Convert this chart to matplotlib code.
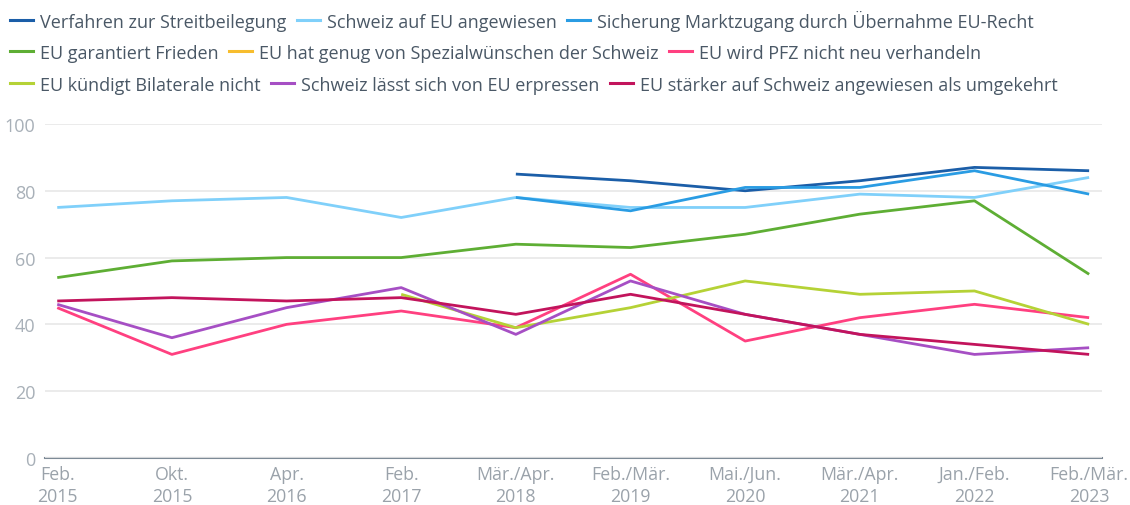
import matplotlib
matplotlib.use("Agg")
import matplotlib.pyplot as plt
from matplotlib.lines import Line2D
import numpy as np

plt.rcParams['font.family'] = ['Open Sans', 'DejaVu Sans']

categories = ["Feb.\n2015", "Okt.\n2015", "Apr.\n2016", "Feb.\n2017", "Mär./Apr.\n2018",
              "Feb./Mär.\n2019", "Mai./Jun.\n2020", "Mär./Apr.\n2021", "Jan./Feb.\n2022", "Feb./Mär.\n2023"]
nan = np.nan
verfahren = [nan, nan, nan, nan, 85, 83, 80, 83, 87, 86]
schweiz_angewiesen = [75, 77, 78, 72, 78, 75, 75, 79, 78, 84]
marktzugang = [nan, nan, nan, nan, 78, 74, 81, 81, 86, 79]
frieden = [54, 59, 60, 60, 64, 63, 67, 73, 77, 55]
spezialwuensche = [nan] * 10
pfz = [45, 31, 40, 44, 39, 55, 35, 42, 46, 42]
bilaterale = [nan, nan, nan, 49, 39, 45, 53, 49, 50, 40]
erpressen = [46, 36, 45, 51, 37, 53, 43, 37, 31, 33]
staerker = [47, 48, 47, 48, 43, 49, 43, 37, 34, 31]

series = [
    ("Verfahren zur Streitbeilegung", verfahren, "#1b5ea8"),
    ("Schweiz auf EU angewiesen", schweiz_angewiesen, "#80d0fa"),
    ("Sicherung Marktzugang durch Übernahme EU-Recht", marktzugang, "#2a9ce3"),
    ("EU garantiert Frieden", frieden, "#5eae34"),
    ("EU hat genug von Spezialwünschen der Schweiz", spezialwuensche, "#f7bd2e"),
    ("EU wird PFZ nicht neu verhandeln", pfz, "#ff4080"),
    ("EU kündigt Bilaterale nicht", bilaterale, "#b5d236"),
    ("Schweiz lässt sich von EU erpressen", erpressen, "#a64fc4"),
    ("EU stärker auf Schweiz angewiesen als umgekehrt", staerker, "#c2145c"),
]

fig = plt.figure(figsize=(11.3, 5.06), dpi=100)
ax = fig.add_axes([0.04, 0.093, 0.935, 0.66])
x = np.arange(len(categories))

for name, vals, col in series:
    ax.plot(x, vals, color=col, lw=2.0, solid_capstyle='butt', clip_on=False)

ax.set_xlim(-0.105, 9.11)
ax.set_ylim(0, 100)
ax.set_yticks([0, 20, 40, 60, 80, 100])
ax.set_xticks(x)
ax.set_xticklabels(categories, fontsize=12.8, color="#9aa2aa", linespacing=1.3)
ax.tick_params(axis='y', length=0, labelsize=13, labelcolor="#a8b0b8", pad=7)
ax.tick_params(axis='x', length=0, pad=5)
ax.grid(axis='y', color="#e8e8e8", lw=1.2)
ax.set_axisbelow(True)
for s in ['top', 'right', 'left']:
    ax.spines[s].set_visible(False)
ax.spines['bottom'].set_color("#7d8a96")
ax.spines['bottom'].set_linewidth(1.5)
ax.spines['bottom'].set_zorder(0.5)

rows = [series[0:3], series[3:6], series[6:9]]
ys = [0.958, 0.894, 0.831]
for row, yy in zip(rows, ys):
    handles = [Line2D([0], [0], color=c, lw=2.2) for _, _, c in row]
    labels = [n for n, _, _ in row]
    leg = fig.legend(handles, labels, loc='center left', bbox_to_anchor=(0.0, yy),
                     ncol=3, frameon=False, fontsize=13.0, handlelength=1.25,
                     handletextpad=0.4, columnspacing=0.6, borderaxespad=0.15)
    for t in leg.get_texts():
        t.set_color("#4a5866")

fig.savefig("out.png", dpi=100)
